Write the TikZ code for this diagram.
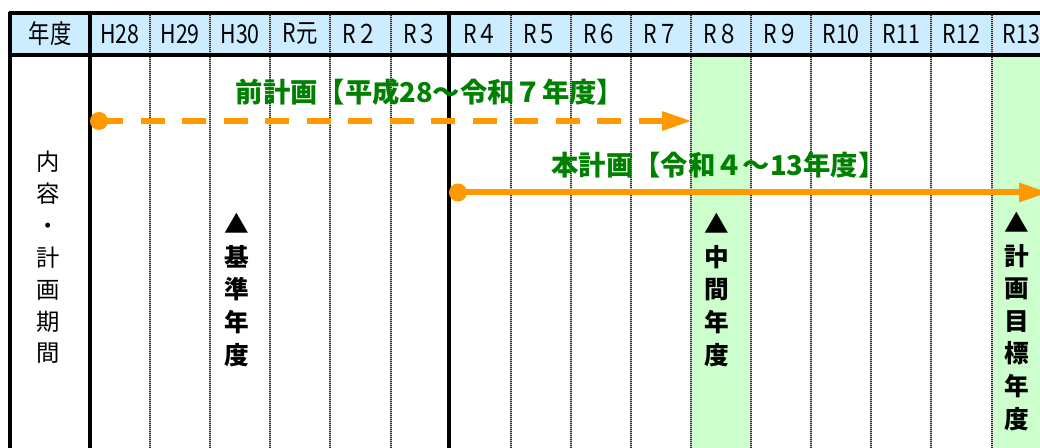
\documentclass[tikz,border=0pt]{standalone}
\usepackage{fontspec}
\setmainfont{Noto Sans CJK JP}
\newfontfamily\headfont{Noto Sans CJK JP}[FakeStretch=0.82]
\usetikzlibrary{arrows.meta,positioning}

\definecolor{headblue}{HTML}{CCECFF}
\definecolor{markgreen}{HTML}{CCFFCC}
\definecolor{plangreen}{HTML}{008000}
\definecolor{planorange}{HTML}{FF9900}

\begin{document}
\begin{tikzpicture}[
    x=0.75pt, y=-0.75pt,
    frame/.style={line width=3pt},
    yearbase/.style={gray!55, line width=1.5pt},
    yearline/.style={black!80, line width=1.5pt, dash pattern=on 0.75pt off 0.75pt},
    headtext/.style={font=\headfont\fontsize{19.5}{22}\selectfont, inner sep=0pt},
    plantitle/.style={font=\fontsize{20.5}{24}\selectfont\bfseries, text=plangreen, inner sep=0pt},
    planline/.style={planorange, line width=4.5pt, -{Triangle[length=22.5pt, width=13.5pt]}},
    startdot/.style={circle, fill=planorange, inner sep=0pt, minimum size=13.5pt},
    marker/.style={font=\fontsize{18.5}{24.4}\selectfont\bfseries, align=center, inner sep=0pt},
    sidetext/.style={font=\fontsize{17.5}{23.9}\selectfont, align=center, inner sep=0pt}
]
    \useasboundingbox (0,0) rectangle (1040,448);
    \fill[white] (0,0) rectangle (1040,448);

    % header and marked years
    \fill[headblue] (10,13.5) rectangle (1040,55);
    \fill[markgreen] (691,57) rectangle (751.1,448);
    \fill[markgreen] (991.5,57) rectangle (1040,448);

    % year columns
    \foreach \i in {1,...,5,7,8,...,15} {
        \draw[yearbase] ({90+60.1*\i},15) -- ({90+60.1*\i},448);
        \draw[yearline] ({90+60.1*\i},15) -- ({90+60.1*\i},448);
    }

    % frame
    \draw[frame] (8.5,13.5) -- (1040,13.5);
    \draw[frame] (10,55) -- (1040,55);
    \draw[frame] (10,12) -- (10,448);
    \draw[frame] (90,12) -- (90,448);
    \draw[frame] (449,12) -- (449,448);

    % header texts
    \node[headtext] (yearhead) at (50,34) {年度};
    \foreach \lbl [count=\i from 0] in {H28,H29,H30,R元,R２,R３,R４,R５,R６,R７,R８,R９,R10,R11,R12,R13}
        \node[headtext] (y\i) at ({120+60.1*\i},34) {\lbl};

    \node[sidetext] (content) at (48.5,257.5) {内\\容\\・\\計\\画\\期\\間};

    % plans
    \node[plantitle] (oldtitle) at (430,92) {前計画【平成28～令和７年度】};
    \node[startdot] (oldstart) at (99,121) {};
    \coordinate (oldend) at (692,121);
    \draw[planline, dash pattern=on 18pt off 13.125pt] (oldstart.center) -- (oldend);

    \node[plantitle] (newtitle) at (718.5,165) {本計画【令和４～13年度】};
    \node[startdot] (newstart) at (458,192.5) {};
    \coordinate (newend) at (1049,192.5);
    \draw[planline] (newstart.center) -- (newend);

    % milestones
    \node[marker] (basemark) at (237,290) {▲\\基\\準\\年\\度};
    \node[marker] (midmark) at (717,290) {▲\\中\\間\\年\\度};
    \node[marker] (goalmark) at (1017,321.5) {▲\\計\\画\\目\\標\\年\\度};
\end{tikzpicture}
\end{document}
